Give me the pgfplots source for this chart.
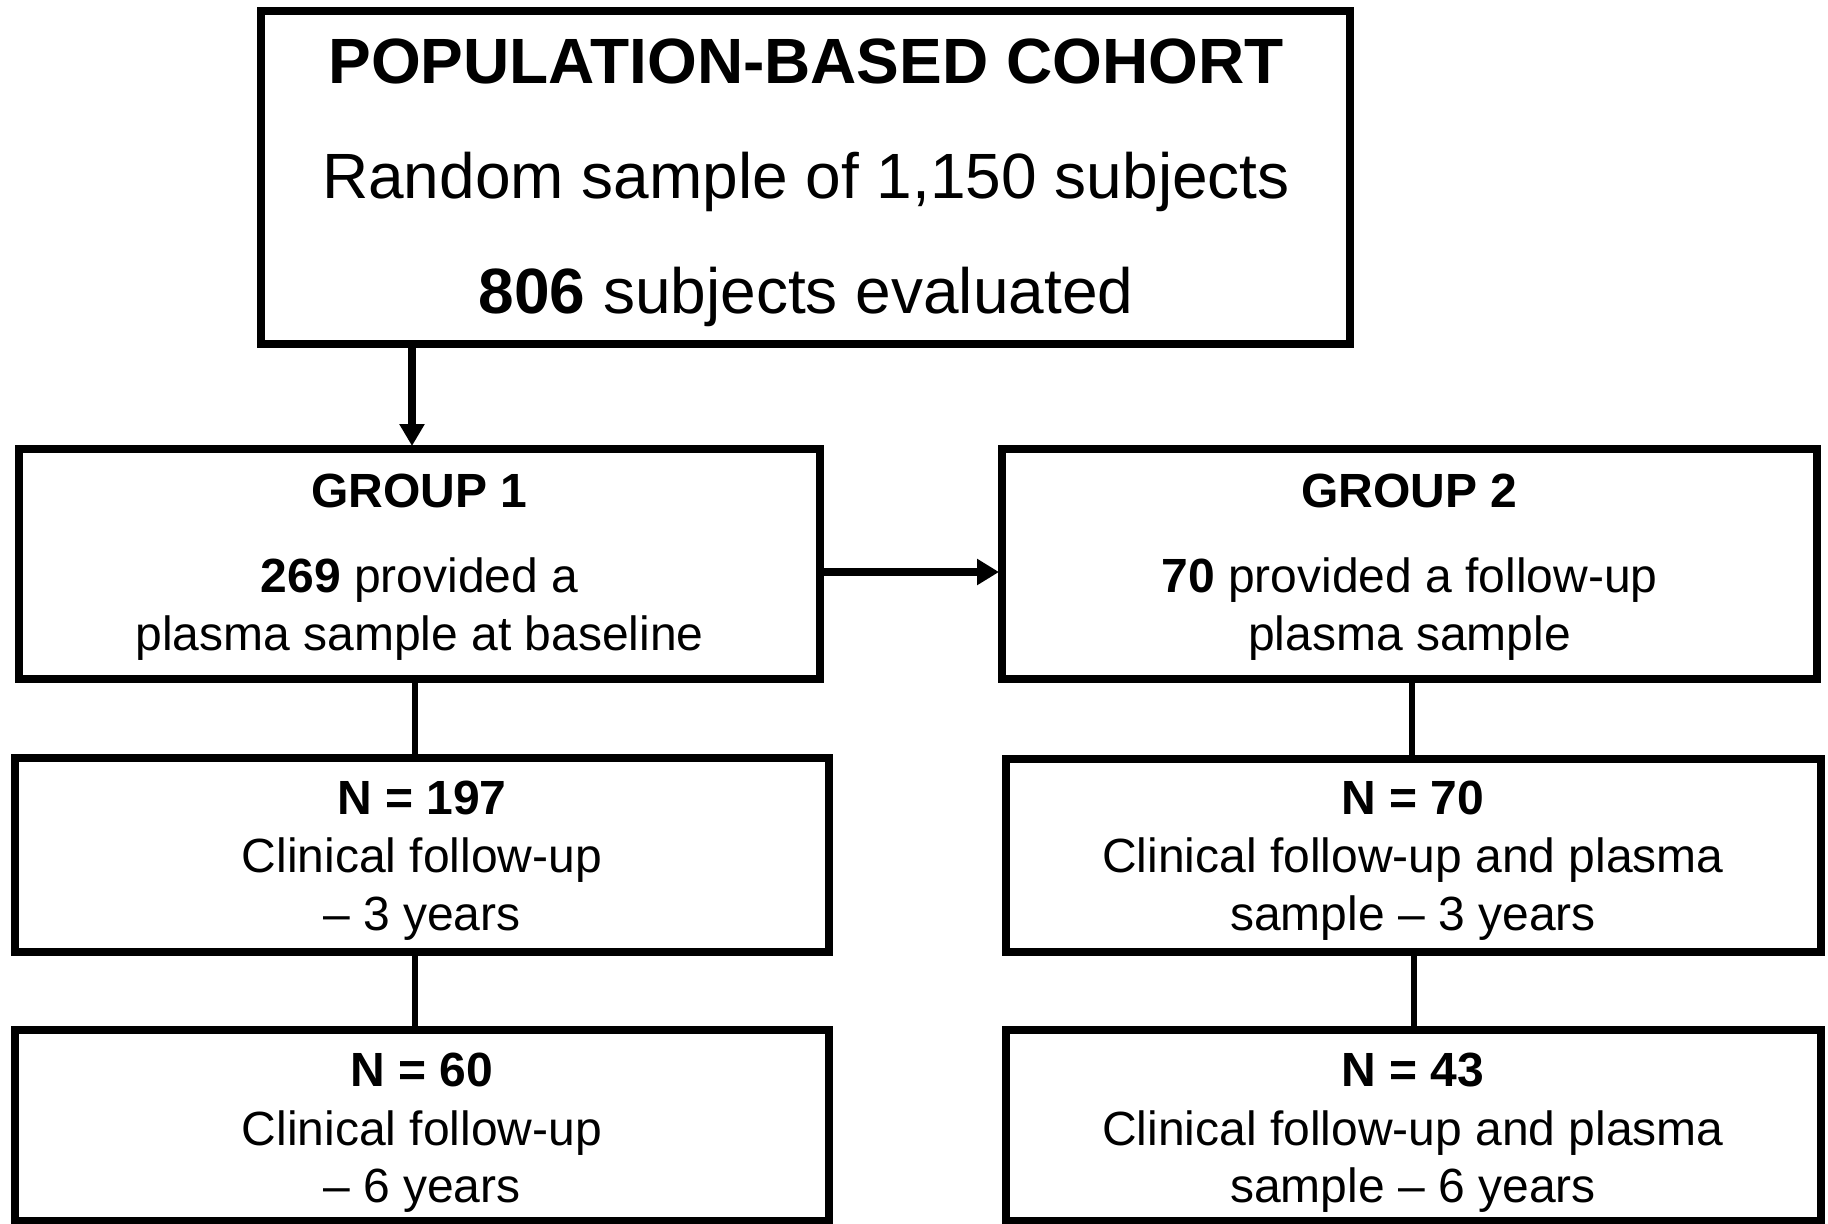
\documentclass[border=0pt]{standalone}
\usepackage{pgfplots}
\pgfplotsset{compat=1.18}
\usepackage{fontspec}
\setmainfont{Liberation Sans}
\usetikzlibrary{arrows.meta}
\newcommand{\bigtxt}{\fontsize{32}{38}\selectfont}
\newcommand{\medtxt}{\fontsize{24}{29}\selectfont}
\begin{document}
\begin{tikzpicture}
\begin{axis}[width=914pt,height=611.5pt,scale only axis,
  xmin=0,xmax=1828,ymin=0,ymax=1223,y dir=reverse,hide axis,clip=false]
% boxes
\draw[line width=4pt] (axis cs:261,11) rectangle (axis cs:1350,344);
\draw[line width=4pt] (axis cs:19,449) rectangle (axis cs:820,679);
\draw[line width=4pt] (axis cs:1002,449) rectangle (axis cs:1817,679);
\draw[line width=4pt] (axis cs:15,758) rectangle (axis cs:829,952);
\draw[line width=4pt] (axis cs:1006,759) rectangle (axis cs:1821,952);
\draw[line width=4pt] (axis cs:15,1030) rectangle (axis cs:829,1221);
\draw[line width=4pt] (axis cs:1006,1030) rectangle (axis cs:1821,1221);
% connectors
\draw[line width=4pt,-{Triangle[length=11pt,width=12pt]}] (axis cs:412,348) -- (axis cs:412,446);
\draw[line width=4pt,-{Triangle[length=11pt,width=12.5pt]}] (axis cs:824,572) -- (axis cs:999,572);
\draw[line width=2.8pt] (axis cs:415,683) -- (axis cs:415,755);
\draw[line width=2.8pt] (axis cs:415,956) -- (axis cs:415,1027);
\draw[line width=2.8pt] (axis cs:1412,683) -- (axis cs:1412,756);
\draw[line width=2.8pt] (axis cs:1414,956) -- (axis cs:1414,1027);
% texts
\begin{scope}[every node/.style={anchor=base,inner sep=0pt}]
\node[font=\fontsize{32}{38}\selectfont\bfseries] at (axis cs:806,83) {POPULATION-BASED COHORT};
\node[font=\bigtxt] at (axis cs:806,198) {Random sample of 1,150 subjects};
\node[font=\bigtxt] at (axis cs:806,313) {\textbf{806} subjects evaluated};
\node[font=\medtxt\bfseries] at (axis cs:419.5,507) {GROUP 1};
\node[font=\medtxt] at (axis cs:419.5,592) {\textbf{269} provided a};
\node[font=\medtxt] at (axis cs:419.5,650) {plasma sample at baseline};
\node[font=\medtxt\bfseries] at (axis cs:1409.5,507) {GROUP 2};
\node[font=\medtxt] at (axis cs:1409.5,592) {\textbf{70} provided a follow-up};
\node[font=\medtxt] at (axis cs:1409.5,650) {plasma sample};
\node[font=\medtxt\bfseries] at (axis cs:422,814) {N = 197};
\node[font=\medtxt] at (axis cs:422,872) {Clinical follow-up};
\node[font=\medtxt] at (axis cs:422,930) {– 3 years};
\node[font=\medtxt\bfseries] at (axis cs:1413,814) {N = 70};
\node[font=\medtxt] at (axis cs:1413,872) {Clinical follow-up and plasma};
\node[font=\medtxt] at (axis cs:1413,930) {sample – 3 years};
\node[font=\medtxt\bfseries] at (axis cs:422,1086) {N = 60};
\node[font=\medtxt] at (axis cs:422,1145) {Clinical follow-up};
\node[font=\medtxt] at (axis cs:422,1202) {– 6 years};
\node[font=\medtxt\bfseries] at (axis cs:1413,1086) {N = 43};
\node[font=\medtxt] at (axis cs:1413,1145) {Clinical follow-up and plasma};
\node[font=\medtxt] at (axis cs:1413,1202) {sample – 6 years};
\end{scope}
\end{axis}
\pgfresetboundingbox
\path[use as bounding box] (current axis.south west) rectangle (current axis.north east);
\end{tikzpicture}
\end{document}
